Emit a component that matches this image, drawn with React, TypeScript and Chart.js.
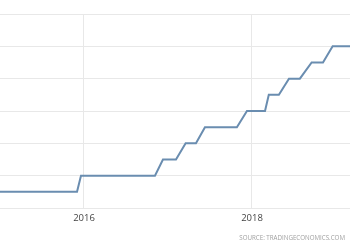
import React, { useEffect, useRef } from "react";
import { Chart, registerables } from "chart.js";

Chart.register(...registerables);

// Decimal-year positions of the step corners and the rate at each
const dates = [
  2014.95, 2015.917, 2015.964, 2016.845, 2016.94, 2017.095, 2017.21, 2017.333,
  2017.44, 2017.82, 2017.94, 2018.155, 2018.2, 2018.32, 2018.44, 2018.57,
  2018.71, 2018.845, 2018.96, 2019.25,
];
const rates = [
  0.25, 0.25, 0.5, 0.5, 0.75, 0.75, 1.0, 1.0, 1.25, 1.25, 1.5, 1.5, 1.75, 1.75,
  2.0, 2.0, 2.25, 2.25, 2.5, 2.5,
];
const xTickYears = [2016, 2018];
const xRange = [2015.0, 2019.1667];
const yRange = [0, 3.0];
const yStep = 0.5;
const sourceText = "SOURCE: TRADINGECONOMICS.COM";

export default function App() {
  const canvasRef = useRef<HTMLCanvasElement | null>(null);

  useEffect(() => {
    document.body.style.margin = "0";
    const ctx = canvasRef.current;
    if (!ctx) return;
    const chart = new Chart(ctx, {
      type: "line",
      data: {
        datasets: [
          {
            data: dates.map((d, i) => ({ x: d, y: rates[i] })),
            borderColor: "#6a8db0",
            borderWidth: 2,
            pointRadius: 0,
            tension: 0,
            fill: false,
          },
        ],
      },
      options: {
        animation: false,
        responsive: false,
        maintainAspectRatio: false,
        layout: { padding: { top: 14, left: 0, right: 0, bottom: 0 } },
        plugins: { legend: { display: false }, tooltip: { enabled: false } },
        scales: {
          x: {
            type: "linear",
            min: xRange[0],
            max: xRange[1],
            afterBuildTicks: (scale: any) => {
              scale.ticks = xTickYears.map((v) => ({ value: v }));
            },
            afterFit: (scale: any) => {
              scale.height = 42;
            },
            grid: { color: "#e8e8e8", lineWidth: 1, drawTicks: false },
            border: { display: false },
            ticks: {
              autoSkip: false,
              maxRotation: 0,
              padding: 5,
              color: "#444",
              font: { family: "'Open Sans'", size: 9.5 },
              callback: (v: any) => String(v),
            },
          },
          y: {
            min: yRange[0],
            max: yRange[1],
            afterFit: (scale: any) => {
              scale.width = 0;
            },
            grid: { color: "#e8e8e8", lineWidth: 1, drawTicks: false },
            border: { display: false },
            ticks: { display: false, stepSize: yStep },
          },
        },
      },
    });
    return () => chart.destroy();
  }, []);

  return (
    <div style={{ position: "relative", width: 350, height: 250, background: "#fff" }}>
      <canvas ref={canvasRef} width={350} height={250} style={{ display: "block" }} />
      <div
        style={{
          position: "absolute",
          right: 5,
          top: 234,
          fontFamily: "'Open Sans'",
          fontSize: 6.2,
          color: "#a0a0a0",
          whiteSpace: "nowrap",
          lineHeight: "8px",
        }}
      >
        {sourceText}
      </div>
    </div>
  );
}
